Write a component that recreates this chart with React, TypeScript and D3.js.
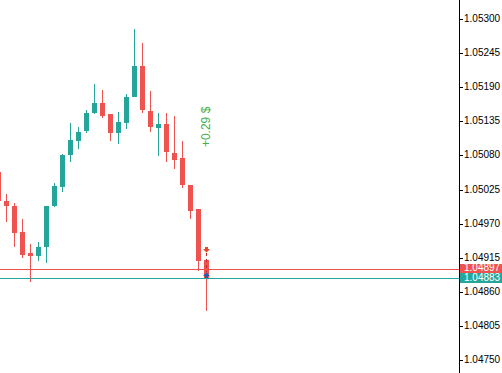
import React from 'react';
import * as d3 from 'd3';

// OHLC (27 bars, oldest first)
const opens = [1.05054, 1.05007, 1.04999, 1.04956, 1.04922, 1.04918, 1.04932, 1.04998, 1.05029, 1.05080, 1.05103, 1.05119, 1.05148, 1.05165, 1.05147, 1.05116, 1.05133, 1.05175, 1.05224, 1.05152, 1.05124, 1.05130, 1.05084, 1.05075, 1.05033, 1.04993, 1.04912];
const highs = [1.05057, 1.05017, 1.05003, 1.04977, 1.04937, 1.04940, 1.04999, 1.05036, 1.05083, 1.05133, 1.05125, 1.05154, 1.05195, 1.05186, 1.05147, 1.05150, 1.05179, 1.05284, 1.05261, 1.05184, 1.05149, 1.05149, 1.05144, 1.05104, 1.05033, 1.04993, 1.04912];
const lows = [1.05002, 1.04972, 1.04933, 1.04915, 1.04876, 1.04910, 1.04906, 1.04997, 1.05021, 1.05069, 1.05091, 1.05116, 1.05147, 1.05140, 1.05104, 1.05098, 1.05122, 1.05174, 1.05149, 1.05117, 1.05079, 1.05069, 1.05058, 1.05027, 1.04978, 1.04894, 1.04829];
const closes = [1.05006, 1.04998, 1.04955, 1.04919, 1.04918, 1.04933, 1.04998, 1.05031, 1.05081, 1.05105, 1.05118, 1.05149, 1.05165, 1.05144, 1.05116, 1.05134, 1.05175, 1.05224, 1.05154, 1.05125, 1.05130, 1.05085, 1.05072, 1.05032, 1.04990, 1.04910, 1.04883];

const priceTicks = [1.05300, 1.05245, 1.05190, 1.05135, 1.05080, 1.05025, 1.04970, 1.04915, 1.04860, 1.04805, 1.04750];

const askPrice = 1.04897;
const bidPrice = 1.04883;

// trade markers on the last bar
const sellArrowPrice = 1.04932;
const buyArrowPrice = 1.04892;
const profitText = '+0.29 $';
const profitTextPrice = 1.05126;

const W = 502;
const H = 373;
const axisX = 459;

const UP = '#26a69a';
const DOWN = '#ef5350';

const App: React.FC = () => {
  const x = d3.scaleLinear().domain([0, opens.length - 1]).range([-2, 206]);
  const y = d3.scaleLinear().domain([1.04750, 1.05300]).range([360, 19]);
  const py = (p: number) => Math.round(y(p));

  const candles = opens.map((o, i) => {
    const c = closes[i];
    const cx = Math.round(x(i));
    const color = c >= o ? UP : DOWN;
    const top = py(Math.max(o, c));
    const bot = py(Math.min(o, c));
    const hi = py(highs[i]);
    const lo = py(lows[i]);
    return (
      <g key={i} fill={color}>
        <rect x={cx} y={hi} width={1} height={Math.max(1, lo - hi)} />
        <rect x={cx - 2} y={top} width={5} height={Math.max(1, bot - top)} />
      </g>
    );
  });

  const lastX = Math.round(x(opens.length - 1));
  const sellY = py(sellArrowPrice);
  const buyY = py(buyArrowPrice);
  const ax = lastX + 0.5;

  const askY = py(askPrice);
  const bidY = py(bidPrice);

  return (
    <svg width={W} height={H} style={{ position: 'absolute', left: 0, top: 0, background: '#fff' }}
      shapeRendering="crispEdges" fontFamily="'Liberation Sans', Arial, sans-serif">
      <rect width={W} height={H} fill="#fff" />
      {candles}

      {/* trade line and arrows */}
      <line x1={ax} x2={ax} y1={sellY + 6} y2={buyY} stroke="#c62828" strokeDasharray="3,3" />
      <path shapeRendering="auto" fill="#e8471f"
        d={`M${ax - 1.5},${sellY} h3 v2 h2 l-3.5,3.5 l-3.5,-3.5 h2 z`} />
      <path shapeRendering="auto" fill="#1e5fb4"
        d={`M${ax},${buyY + 0.5} l3.5,3.5 h-2 v3 h-3 v-3 h-2 z`} />

      {/* ask / bid lines */}
      <line x1={0} x2={axisX} y1={askY + 0.5} y2={askY + 0.5} stroke={DOWN} />
      <line x1={0} x2={axisX} y1={bidY + 0.5} y2={bidY + 0.5} stroke={UP} />

      {/* profit label */}
      <text transform={`translate(${lastX + 1},${y(profitTextPrice)}) rotate(-90)`}
        textAnchor="middle" dominantBaseline="middle" fontSize={12} fill="#45b04c">
        {profitText}
      </text>

      {/* price axis */}
      <line x1={axisX + 0.5} x2={axisX + 0.5} y1={0} y2={H} stroke="#000" />
      {priceTicks.map(t => (
        <g key={t}>
          <line x1={axisX} x2={axisX + 4} y1={py(t) + 0.5} y2={py(t) + 0.5} stroke="#000" />
          <text x={axisX + 5} y={py(t)} dominantBaseline="middle" fontSize={10} fill="#000">
            {t.toFixed(5)}
          </text>
        </g>
      ))}

      {/* ask / bid labels, stacked */}
      <rect x={axisX + 1} y={askY - 5} width={W - axisX - 1} height={bidY - askY} fill={DOWN} />
      <text x={axisX + 5} y={askY - 0.5} dominantBaseline="middle" fontSize={10} fill="#fff">
        {askPrice.toFixed(5)}
      </text>
      <rect x={axisX + 1} y={bidY - 5} width={W - axisX - 1} height={10} fill={UP} />
      <text x={axisX + 5} y={bidY + 0.5} dominantBaseline="middle" fontSize={10} fill="#fff">
        {bidPrice.toFixed(5)}
      </text>
    </svg>
  );
};

export default App;
